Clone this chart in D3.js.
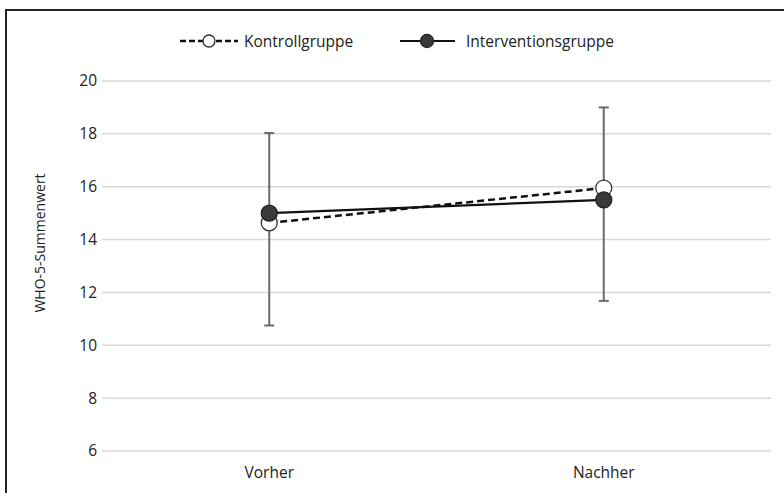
<!DOCTYPE html>
<html>
<head>
<meta charset="utf-8">
<script src="https://cdn.jsdelivr.net/npm/d3@7"></script>
<style>
  html, body { margin: 0; padding: 0; background: #fff; }
  svg { display: block; font-family: "Open Sans", "Noto Sans", sans-serif; }
</style>
</head>
<body>
<svg id="chart" width="784" height="493"></svg>
<script>
// Time points and group means with their error-bar ranges (WHO-5 sum score)
const categories = ["Vorher", "Nachher"];
const kontrollMeans = [14.63, 15.95];
const interventionMeans = [15.0, 15.5];
const errorLow = [10.75, 11.68];
const errorHigh = [18.03, 19.0];
const yTicks = [6, 8, 10, 12, 14, 16, 18, 20];
const seriesNames = ["Kontrollgruppe", "Interventionsgruppe"];
const yTitle = "WHO-5-Summenwert";

const FONT = 15.5;
const svg = d3.select("#chart");

// Outer frame (continues past the right and bottom edges)
svg.append("rect")
  .attr("x", 6).attr("y", 10)
  .attr("width", 800).attr("height", 500)
  .attr("fill", "#fff")
  .attr("stroke", "#222")
  .attr("stroke-width", 2);

const x = d3.scaleBand().domain(categories).range([102, 771]);
const y = d3.scaleLinear().domain([6, 20]).range([451, 81]);
const cx = d => x(d) + x.bandwidth() / 2;

// Horizontal gridlines
svg.append("g").selectAll("line").data(yTicks).join("line")
  .attr("x1", 102).attr("x2", 771)
  .attr("y1", d => y(d)).attr("y2", d => y(d))
  .attr("stroke", "#d9d9d9").attr("stroke-width", 1.5);

// Y axis labels
const yAxis = svg.append("g")
  .attr("transform", "translate(102,0)")
  .call(d3.axisLeft(y).tickValues(yTicks).tickSize(0).tickPadding(5));
yAxis.select(".domain").remove();
yAxis.selectAll("text").attr("font-size", FONT).attr("fill", "#222")
  .attr("font-family", "'Open Sans', sans-serif");

// X axis labels
const xAxis = svg.append("g")
  .attr("transform", "translate(0,451)")
  .call(d3.axisBottom(x).tickSize(0).tickPadding(16));
xAxis.select(".domain").remove();
xAxis.selectAll("text").attr("font-size", FONT).attr("fill", "#222")
  .attr("font-family", "'Open Sans', sans-serif");

// Y axis title
svg.append("text")
  .attr("transform", "translate(45,243) rotate(-90)")
  .attr("text-anchor", "middle")
  .attr("font-size", 14).attr("fill", "#222")
  .text(yTitle);

// Error bars
const eb = svg.append("g").attr("stroke", "#6a6a6a").attr("stroke-width", 2);
categories.forEach((c, i) => {
  eb.append("line").attr("x1", cx(c)).attr("x2", cx(c))
    .attr("y1", y(errorLow[i])).attr("y2", y(errorHigh[i]));
  [errorLow[i], errorHigh[i]].forEach(v => {
    eb.append("line").attr("x1", cx(c) - 5).attr("x2", cx(c) + 5)
      .attr("y1", y(v)).attr("y2", y(v));
  });
});

const line = d3.line().x((d, i) => cx(categories[i])).y(d => y(d));

// Kontrollgruppe: dashed line, open markers
svg.append("path").datum(kontrollMeans)
  .attr("d", line).attr("fill", "none")
  .attr("stroke", "#111").attr("stroke-width", 2.5)
  .attr("stroke-dasharray", "7,4");
// Interventionsgruppe: solid line, filled markers
svg.append("path").datum(interventionMeans)
  .attr("d", line).attr("fill", "none")
  .attr("stroke", "#111").attr("stroke-width", 2.2);

svg.append("g").selectAll("circle").data(kontrollMeans).join("circle")
  .attr("cx", (d, i) => cx(categories[i])).attr("cy", d => y(d))
  .attr("r", 8).attr("fill", "#fff").attr("stroke", "#333").attr("stroke-width", 1.3);
svg.append("g").selectAll("circle").data(interventionMeans).join("circle")
  .attr("cx", (d, i) => cx(categories[i])).attr("cy", d => y(d))
  .attr("r", 8).attr("fill", "#3a3a3a").attr("stroke", "#222").attr("stroke-width", 1.3);

// Legend
const lg = svg.append("g");
lg.append("line").attr("x1", 180).attr("x2", 238).attr("y1", 41).attr("y2", 41)
  .attr("stroke", "#111").attr("stroke-width", 2.5).attr("stroke-dasharray", "6,3");
lg.append("circle").attr("cx", 209).attr("cy", 41).attr("r", 6)
  .attr("fill", "#fff").attr("stroke", "#333").attr("stroke-width", 1.3);
lg.append("text").attr("x", 244).attr("y", 46.5).attr("font-size", FONT).attr("fill", "#222")
  .text(seriesNames[0]);
lg.append("line").attr("x1", 400).attr("x2", 455).attr("y1", 41).attr("y2", 41)
  .attr("stroke", "#111").attr("stroke-width", 2.2);
lg.append("circle").attr("cx", 427).attr("cy", 41).attr("r", 6.5)
  .attr("fill", "#3a3a3a").attr("stroke", "#222").attr("stroke-width", 1.3);
lg.append("text").attr("x", 466).attr("y", 46.5).attr("font-size", FONT).attr("fill", "#222")
  .text(seriesNames[1]);
</script>
</body>
</html>
